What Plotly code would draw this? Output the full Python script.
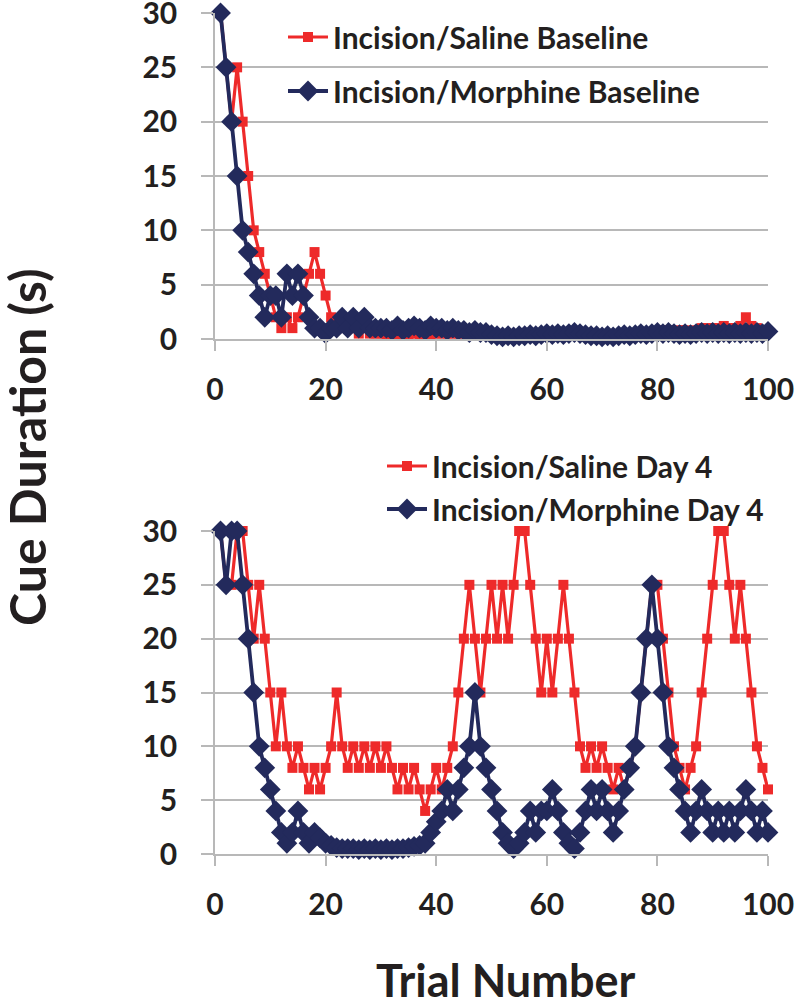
import plotly.graph_objects as go

trials = list(range(1, 101))

top_saline = [
    30, 25, 20, 25, 20, 15, 10, 8, 6, 4,
    2, 1, 2, 1, 2, 4, 6, 8, 6, 4,
    2, 1, 1.5, 1, 1, 0.5, 1, 0.5, 0.5, 0.5,
    0.3, 0.5, 0.3, 0.5, 0.3, 0.5, 0.3, 0.5, 0.3, 0.5,
    0.5, 0.5, 0.5, 0.5, 0.5, 0.4, 0.4, 0.4, 0.4, 0.4,
    0.3, 0.3, 0.3, 0.3, 0.3, 0.3, 0.3, 0.3, 0.3, 0.3,
    0.3, 0.3, 0.3, 0.3, 0.3, 0.3, 0.3, 0.3, 0.3, 0.3,
    0.4, 0.4, 0.4, 0.4, 0.4, 0.5, 0.5, 0.5, 0.6, 0.7,
    0.8, 0.8, 0.7, 0.8, 0.8, 0.7, 0.8, 1, 1, 1,
    1, 1.2, 1, 1, 1.2, 2, 1.2, 1, 0.8, 0.7,
]

top_morphine = [
    30, 25, 20, 15, 10, 8, 6, 4, 2, 4,
    4, 2, 6, 4, 6, 4, 2, 1, 1, 0.5,
    1, 1, 2, 1, 2, 1, 2, 1, 1, 1,
    1, 0.8, 1.2, 0.8, 1, 1.2, 1, 0.8, 1.2, 1,
    1, 0.8, 1, 0.8, 0.8, 0.6, 0.8, 0.6, 0.6, 0.4,
    0.3, 0.2, 0.3, 0.2, 0.3, 0.3, 0.4, 0.3, 0.4, 0.5,
    0.4, 0.5, 0.4, 0.5, 0.6, 0.5, 0.4, 0.3, 0.3, 0.2,
    0.3, 0.2, 0.3, 0.4, 0.3, 0.4, 0.5, 0.4, 0.5, 0.6,
    0.5, 0.6, 0.5, 0.4, 0.5, 0.4, 0.5, 0.6, 0.5, 0.6,
    0.5, 0.6, 0.5, 0.6, 0.5, 0.6, 0.5, 0.6, 0.5, 0.7,
]

day4_saline = [
    30, 25, 25, 30, 30, 25, 20, 25, 20, 15,
    10, 15, 10, 8, 10, 8, 6, 8, 6, 8,
    10, 15, 10, 8, 10, 8, 10, 8, 10, 8,
    10, 8, 6, 8, 6, 8, 6, 4, 6, 8,
    6, 8, 10, 15, 20, 25, 20, 15, 20, 25,
    20, 25, 20, 25, 30, 30, 25, 20, 15, 20,
    15, 20, 25, 20, 15, 10, 8, 10, 8, 10,
    8, 6, 8, 6, 8, 10, 15, 20, 25, 25,
    20, 15, 10, 8, 6, 8, 10, 15, 20, 25,
    30, 30, 25, 20, 25, 20, 15, 10, 8, 6,
]

day4_morphine = [
    30, 25, 30, 30, 25, 20, 15, 10, 8, 6,
    4, 2, 1, 2, 4, 2, 1, 2, 1.5, 1,
    0.8, 0.6, 0.5, 0.5, 0.5, 0.4, 0.5, 0.4, 0.5, 0.4,
    0.5, 0.4, 0.5, 0.5, 0.6, 0.7, 0.8, 1, 2, 3,
    4, 6, 4, 6, 8, 10, 15, 10, 8, 6,
    4, 2, 1, 0.5, 1, 2, 4, 2, 4, 4,
    6, 4, 2, 1, 0.5, 2, 4, 6, 4, 6,
    4, 2, 4, 6, 8, 10, 15, 20, 25, 20,
    15, 10, 8, 6, 4, 2, 4, 6, 4, 2,
    4, 2, 4, 2, 4, 6, 4, 2, 4, 2,
]

x_ticks = [0, 20, 40, 60, 80, 100]
y_ticks = [0, 5, 10, 15, 20, 25, 30]

RED = "#EE2A2A"
NAVY = "#232A5C"
GRID = "#B8B8B8"
TXT = "#231F20"
FONT = "Lato"

fig = go.Figure()

def add(y, name, color, symbol, msize, lw, xa, ya, legend, group):
    fig.add_trace(go.Scatter(
        x=trials, y=y, name=name, mode="lines+markers",
        line=dict(color=color, width=lw),
        marker=dict(symbol=symbol, size=msize, color=color),
        xaxis=xa, yaxis=ya, legend=legend, legendgroup=group,
        cliponaxis=False,
    ))

add(top_saline, "Incision/Saline Baseline", RED, "square", 10, 3.2, "x", "y", "legend", "a")
add(top_morphine, "Incision/Morphine Baseline", NAVY, "diamond", 16, 3.8, "x", "y", "legend", "b")
add(day4_saline, "Incision/Saline Day 4", RED, "square", 10, 3.2, "x2", "y2", "legend2", "c")
add(day4_morphine, "Incision/Morphine Day 4", NAVY, "diamond", 16, 3.8, "x2", "y2", "legend2", "d")

W = 800.0
H = 1002.0

def px(v):
    return v / W

def py(v):
    return 1 - v / H

xdom = [px(215), px(768)]
tickfont = dict(family=FONT, size=30, color=TXT, weight="bold")

def xax(anchor):
    return dict(domain=xdom, range=[0, 100], tickvals=x_ticks, ticks="outside",
                ticklen=10, tickwidth=1.5, tickcolor=GRID, showgrid=False,
                zeroline=False, showline=True, linecolor=GRID, linewidth=1.5,
                tickfont=tickfont, anchor=anchor, ticklabelstandoff=13,
                automargin=False, ticklabeloverflow="allow")

def yax(dom, anchor):
    return dict(domain=dom, range=[0, 30], tickvals=y_ticks, ticks="outside",
                ticklen=12, tickwidth=1.5, tickcolor=GRID, showgrid=True,
                gridcolor=GRID, gridwidth=1.5, zeroline=False, showline=True,
                linecolor=GRID, linewidth=1.5, tickfont=tickfont, anchor=anchor,
                ticklabelstandoff=18, automargin=False, ticklabeloverflow="allow")

legfont = dict(family=FONT, size=30, color=TXT, weight="bold")

fig.update_layout(
    width=int(W), height=int(H),
    margin=dict(l=0, r=0, t=0, b=0, autoexpand=False),
    paper_bgcolor="white", plot_bgcolor="white",
    xaxis=xax("y"),
    yaxis=yax([py(339), py(13)], "x"),
    xaxis2=xax("y2"),
    yaxis2=yax([py(854), py(531)], "x2"),
    legend=dict(x=px(283), y=py(11), xanchor="left", yanchor="top",
                font=legfont, bgcolor="rgba(0,0,0,0)", tracegroupgap=12,
                itemwidth=40),
    legend2=dict(x=px(382), y=py(440), xanchor="left", yanchor="top",
                 font=legfont, bgcolor="rgba(0,0,0,0)", tracegroupgap=1,
                 itemwidth=40),
    showlegend=True,
    annotations=[
        dict(text="Trial Number", x=px(506), y=py(980), xref="paper", yref="paper",
             showarrow=False, font=dict(family=FONT, size=45, color=TXT, weight="bold"),
             xanchor="center", yanchor="middle"),
        dict(text="Cue Duration (s)", x=px(27), y=py(447), xref="paper", yref="paper",
             showarrow=False, textangle=-90,
             font=dict(family=FONT, size=50, color=TXT, weight="bold"),
             xanchor="center", yanchor="middle"),
    ],
)

fig.write_html("out.html", config={"displayModeBar": False},
               post_script="document.body.style.margin='0px';")
